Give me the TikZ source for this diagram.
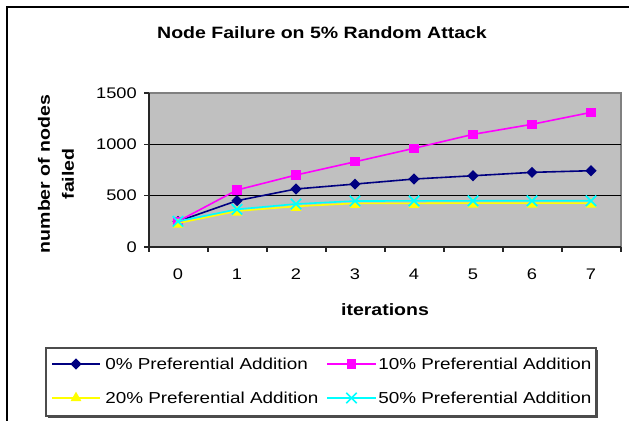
\documentclass[tikz,border=0pt]{standalone}
\usepackage{fontspec}
\setmainfont{Liberation Sans}[FakeStretch=1.19]
\usepackage{tikz}
\usetikzlibrary{calc,shapes.geometric,shapes.misc}
\definecolor{plotgray}{RGB}{192,192,192}
\definecolor{navyline}{RGB}{0,0,128}
\definecolor{pinkline}{RGB}{255,0,255}
\definecolor{yellowline}{RGB}{255,255,0}
\definecolor{cyanline}{RGB}{0,255,255}
\def\drawseries{\draw[line width=1.2pt,line join=round]}
\def\ticklabel{\node[font=\fontsize{11.5}{13}\selectfont,inner sep=0pt]}
\def\keylabel{\node[font=\fontsize{11.9}{13}\selectfont,inner sep=0pt,anchor=west]}
\tikzset{
  navymark/.style={diamond,fill=navyline,inner sep=0pt,minimum size=8.5pt},
  pinkmark/.style={rectangle,fill=pinkline,inner sep=0pt,minimum size=6.8pt},
  yellowmark/.style={regular polygon,regular polygon sides=3,fill=yellowline,inner sep=0pt,minimum size=9.5pt},
  cyanmark/.style={cross out,draw=cyanline,line width=1.3pt,inner sep=0pt,minimum size=6.5pt},
  axisline/.style={draw=black!85,line width=1.2pt},
  boldlabel/.style={font=\bfseries\fontsize{12.3}{18}\selectfont,inner sep=0pt,align=center}
}
\begin{document}
\begin{tikzpicture}[x=0.75pt,y=-0.75pt]
\useasboundingbox (0,0) rectangle (629,421);
% outer frame, only top and left edges show
\coordinate (frametop) at (629,7);
\coordinate (framecorner) at (7,7);
\coordinate (framebottom) at (7,421);
\draw[line width=1.1pt] (frametop) -- (framecorner) -- (framebottom);

\node[boldlabel] (title) at (322,33) {Node Failure on 5\% Random Attack};

% ---------- plot area
\coordinate (pa_sw) at (149,247);
\coordinate (pa_ne) at (621,93);
\fill[plotgray] (pa_sw) rectangle (pa_ne);
\draw[black!50,line width=0.8pt] (149,93) -- (pa_ne) -- (621,247);
\foreach \v in {500,1000}
  \draw[black,line width=0.7pt] (149,{247-0.10267*\v}) -- (621,{247-0.10267*\v});

% axes and ticks
\draw[axisline] (149,93) -- (pa_sw) -- (621,247);
\foreach \v in {0,500,...,1500}{
  \draw[axisline,line width=0.9pt] (144,{247-0.10267*\v}) -- (149,{247-0.10267*\v});
  \ticklabel[anchor=east] (yl\v) at (137,{247-0.10267*\v}) {\v};
}
\foreach \k in {0,...,8}
  \draw[axisline,line width=0.9pt] ({149+59*\k},247) -- ({149+59*\k},252);
\foreach \k in {0,...,7}
  \ticklabel (xl\k) at ({178+59*\k},274) {\k};

\node[boldlabel] (xtitle) at (385,310) {iterations};
\node[boldlabel,rotate=90] (ytitle) at (56,174) {number of nodes\\failed};

% ---------- the four series
\foreach \v [count=\i from 0] in {250,451,565,613,662,694,727,743}
  \coordinate (zero\i) at ({178+59*\i},{247-0.10267*\v});
\foreach \v [count=\i from 0] in {250,555,701,830,961,1097,1195,1311}
  \coordinate (ten\i) at ({178+59*\i},{247-0.10267*\v});
\foreach \v [count=\i from 0] in {232,350,396,425,425,428,428,428}
  \coordinate (twenty\i) at ({178+59*\i},{247-0.10267*\v});
\foreach \v [count=\i from 0] in {250,367,419,448,449,450,450,450}
  \coordinate (fifty\i) at ({178+59*\i},{247-0.10267*\v});

\drawseries[navyline] (zero0) \foreach \i in {1,...,7}{ -- (zero\i)};
\foreach \i in {0,...,7} \node[navymark] (zm\i) at (zero\i) {};
\drawseries[pinkline] (ten0) \foreach \i in {1,...,7}{ -- (ten\i)};
\foreach \i in {0,...,7} \node[pinkmark] (tm\i) at (ten\i) {};
\drawseries[yellowline] (twenty0) \foreach \i in {1,...,7}{ -- (twenty\i)};
\foreach \i in {0,...,7} \node[yellowmark,yshift=-1pt] (wm\i) at (twenty\i) {};
\drawseries[cyanline] (fifty0) \foreach \i in {1,...,7}{ -- (fifty\i)};
\foreach \i in {0,...,7} \node[cyanmark] (fm\i) at (fifty\i) {};

% ---------- legend
\coordinate (lg_nw) at (46,348);
\coordinate (lg_se) at (596,416);
\fill[black!70] ($(lg_nw)+(2,2)$) rectangle ($(lg_se)+(2,2)$);
\draw[black!70,fill=white,line width=0.8pt] (lg_nw) rectangle (lg_se);
% row 1
\coordinate (k1a) at (52,364);  \coordinate (k1b) at (100,364);
\draw[navyline,line width=0.9pt] (k1a) -- (k1b);
\node[navymark] (k1m) at ($(k1a)!.5!(k1b)$) {};
\keylabel (k1t) at (105,364) {0\% Preferential Addition};
\coordinate (k2a) at (327,364); \coordinate (k2b) at (376,364);
\draw[pinkline,line width=0.9pt] (k2a) -- (k2b);
\node[pinkmark] (k2m) at ($(k2a)!.5!(k2b)$) {};
\keylabel (k2t) at (378,364) {10\% Preferential Addition};
% row 2
\coordinate (k3a) at (52,398);  \coordinate (k3b) at (100,398);
\draw[yellowline,line width=0.9pt] (k3a) -- (k3b);
\node[yellowmark] (k3m) at ($(k3a)!.5!(k3b)$) {};
\keylabel (k3t) at (105,398) {20\% Preferential Addition};
\coordinate (k4a) at (327,398); \coordinate (k4b) at (376,398);
\draw[cyanline,line width=0.9pt] (k4a) -- (k4b);
\node[cyanmark] (k4m) at ($(k4a)!.5!(k4b)$) {};
\keylabel (k4t) at (378,398) {50\% Preferential Addition};
\end{tikzpicture}
\end{document}
